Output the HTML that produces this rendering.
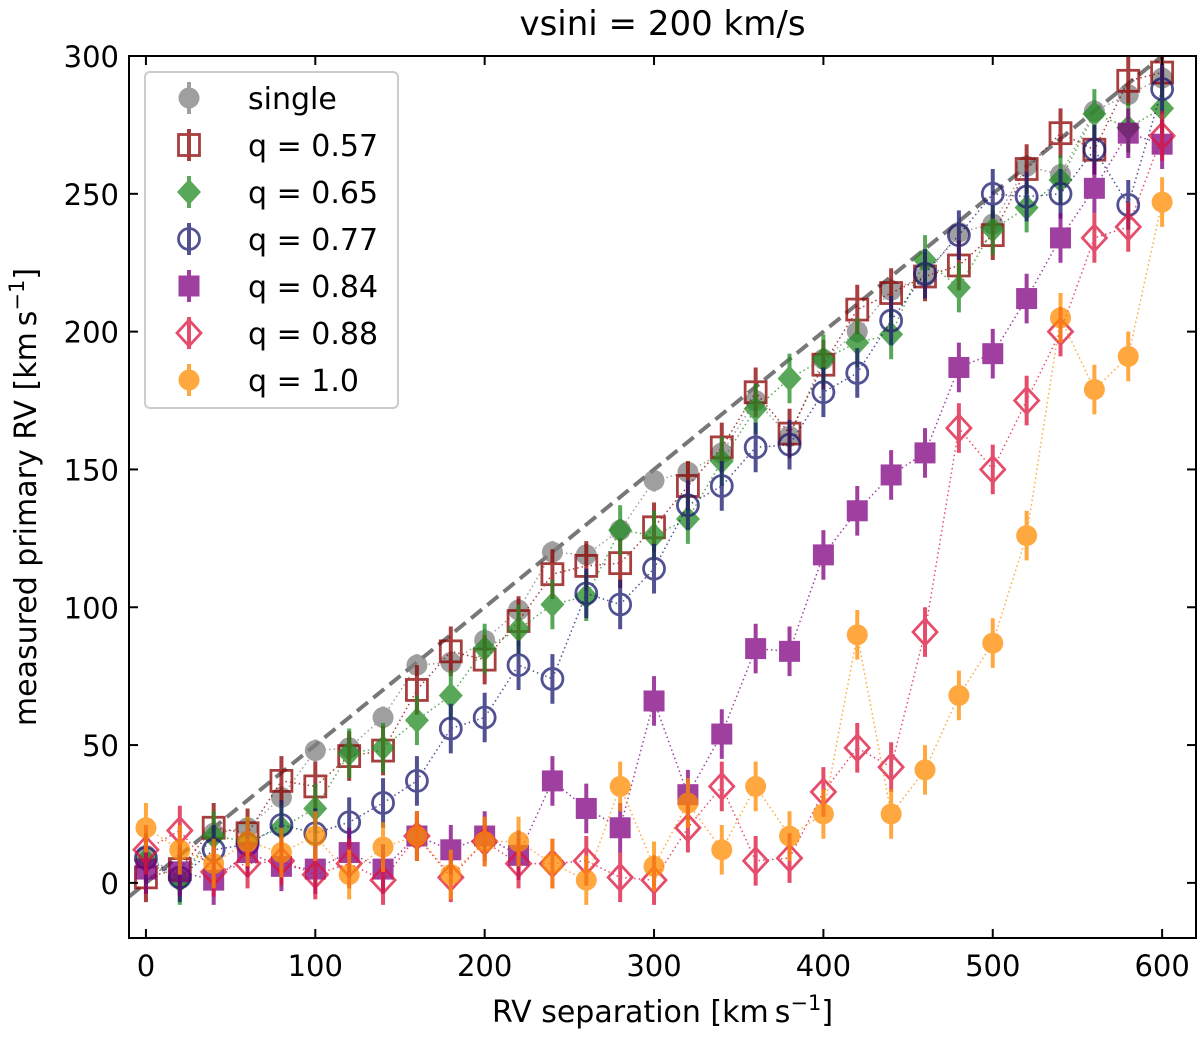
<!DOCTYPE html>
<html><head><meta charset="utf-8"><style>
body{margin:0;background:#fff}
svg text{font-family:"DejaVu Sans","Liberation Sans",sans-serif}
</style></head><body>
<svg id="chart" width="1200" height="1037" xmlns="http://www.w3.org/2000/svg">
<g id="marks"></g>
<g id="axes"></g>
<g id="legend"></g>
</svg>
<script>
const xs = [0,20,40,60,80,100,120,140,160,180,200,220,240,260,280,300,320,340,360,380,400,420,440,460,480,500,520,540,560,580,600];
const single = [10,2,18,20,31,48,49,60,79,80,88,99,120,119,128,146,149,156,175,162,190,200,215,220,236,239,260,257,280,286,292];
const q057 = [2,5,20,18,37,35,46,48,70,84,81,95,112,115,116,129,144,158,178,163,188,208,214,220,224,235,259,272,266,291,294];
const q065 = [8,1,17,15,20,27,47,49,59,68,85,92,101,104,128,126,132,153,172,183,190,196,199,226,216,237,245,255,279,274,281];
const q077 = [9,2,12,14,21,18,22,29,37,56,60,79,74,105,101,114,137,144,158,159,178,185,204,221,235,250,249,250,266,246,288];
const q084 = [5,4,1,11,6,5,11,5,17,12,17,10,37,27,20,66,32,54,85,84,119,135,148,156,187,192,212,234,252,272,268];
const q088 = [12,19,4,7,8,3,7,1,17,2,15,7,7,8,2,1,20,35,8,9,33,49,42,91,165,150,175,200,234,238,271];
const q100 = [20,12,7,15,11,17,3,13,17,3,15,15,7,1,35,6,29,12,35,17,25,90,25,41,68,87,126,205,179,191,247];
const errSingle = 4, errBin = 9;
const xTicks = [0,100,200,300,400,500,600];
const yTicks = [0,50,100,150,200,250,300];

const L=129,R=1196,T=56,B=938;
const X0=-10,X1=620,Y0=-20,Y1=300;
const sx=v=>L+(v-X0)/(X1-X0)*(R-L);
const sy=v=>B-(v-Y0)/(Y1-Y0)*(B-T);
const NS="http://www.w3.org/2000/svg";
function mk(tag,attrs,parent){const e=document.createElementNS(NS,tag);for(const k in attrs)e.setAttribute(k,attrs[k]);parent.appendChild(e);return e;}
const marks=document.getElementById('marks'),axes=document.getElementById('axes'),leg=document.getElementById('legend');

const series=[
 {name:'single',data:single,col:'#808080',m:'circle',fill:true,err:errSingle},
 {name:'q = 0.57',data:q057,col:'#8b0000',m:'square',fill:false,err:errBin},
 {name:'q = 0.65',data:q065,col:'#228b22',m:'diamond',fill:true,err:errBin},
 {name:'q = 0.77',data:q077,col:'#191970',m:'circle',fill:false,err:errBin},
 {name:'q = 0.84',data:q084,col:'#800080',m:'square',fill:true,err:errBin},
 {name:'q = 0.88',data:q088,col:'#dc143c',m:'diamond',fill:false,err:errBin},
 {name:'q = 1.0',data:q100,col:'#ff8c00',m:'circle',fill:true,err:errBin}
];
function marker(g,m,cx,cy,col,fill){
 const st=fill?{fill:col,stroke:'none'}:{fill:'none',stroke:col,'stroke-width':2.8};
 let e;
 if(m==='circle') e=mk('circle',Object.assign({cx,cy,r:10.5},st),g);
 else if(m==='square') e=mk('rect',Object.assign({x:cx-10.5,y:cy-10.5,width:21,height:21},st),g);
 else e=mk('polygon',Object.assign({points:`${cx},${cy-13} ${cx+12},${cy} ${cx},${cy+13} ${cx-12},${cy}`},st),g);
 return e;
}
const clip=mk('clipPath',{id:'cp'},mk('defs',{},marks));
mk('rect',{x:L,y:T,width:R-L,height:B-T},clip);
const pg=mk('g',{'clip-path':'url(#cp)'},marks);
const dl=mk('line',{x1:sx(X0),y1:sy(X0/2),x2:sx(X1),y2:sy(X1/2),stroke:'#777','stroke-width':4,'stroke-dasharray':'14,7'},pg);


series.forEach((s,si)=>{
 const g=mk('g',{opacity:0.75},pg);
 
 
 const pts=xs.map((x,i)=>sx(x)+','+sy(s.data[i])).join(' ');
 mk('polyline',{points:pts,fill:'none',stroke:s.col,'stroke-width':1.5,'stroke-dasharray':'1.5,3'},g);
 xs.forEach((x,i)=>{
  const cx=sx(x),cy=sy(s.data[i]);
  mk('line',{x1:cx,x2:cx,y1:sy(s.data[i]-s.err),y2:sy(s.data[i]+s.err),stroke:s.col,'stroke-width':4},g);
  const e=marker(g,s.m,cx,cy,s.col,s.fill);
  
  
 });
});
mk('rect',{x:L,y:T,width:R-L,height:B-T,fill:'none',stroke:'#000','stroke-width':2},axes);
xTicks.forEach(t=>{
 const x=sx(t);
 mk('line',{x1:x,x2:x,y1:B,y2:B-9,stroke:'#000','stroke-width':2},axes);
 mk('line',{x1:x,x2:x,y1:T,y2:T+9,stroke:'#000','stroke-width':2},axes);
 const tx=mk('text',{x:x,y:B+38,'font-size':29,'text-anchor':'middle'},axes);tx.textContent=t;
 
 
});
yTicks.forEach(t=>{
 const y=sy(t);
 mk('line',{x1:L,x2:L+9,y1:y,y2:y,stroke:'#000','stroke-width':2},axes);
 mk('line',{x1:R,x2:R-9,y1:y,y2:y,stroke:'#000','stroke-width':2},axes);
 const tx=mk('text',{x:L-10,y:y+11,'font-size':29,'text-anchor':'end'},axes);tx.textContent=t;
 
 
});
let t=mk('text',{x:(L+R)/2,y:1022,'font-size':30,'text-anchor':'middle'},axes);
t.innerHTML='RV separation [km\u2009s<tspan dy="-12" font-size="21">\u22121</tspan><tspan dy="12">]</tspan>';

t=mk('text',{x:0,y:0,'font-size':30,'text-anchor':'middle',transform:`translate(36,${(T+B)/2}) rotate(-90)`},axes);
t.innerHTML='measured primary RV [km\u2009s<tspan dy="-12" font-size="21">\u22121</tspan><tspan dy="12">]</tspan>';

t=mk('text',{x:(L+R)/2,y:35,'font-size':34,'text-anchor':'middle'},axes);t.textContent='vsini = 200 km/s';


mk('rect',{x:145,y:72,width:253,height:336,rx:5,fill:'#fff','fill-opacity':0.8,stroke:'#ccc','stroke-width':2},leg);
series.forEach((s,i)=>{
 const cy=98+i*47,cx=189;
 const g=mk('g',{},leg);
 
 
 const gg=mk('g',{opacity:0.75},g);
 mk('line',{x1:cx,x2:cx,y1:cy-16,y2:cy+16,stroke:s.col,'stroke-width':4},gg);
 marker(gg,s.m,cx,cy,s.col,s.fill);
 const tx=mk('text',{x:248,y:cy+11,'font-size':30},g);tx.textContent=s.name;
});
</script>
</body></html>
